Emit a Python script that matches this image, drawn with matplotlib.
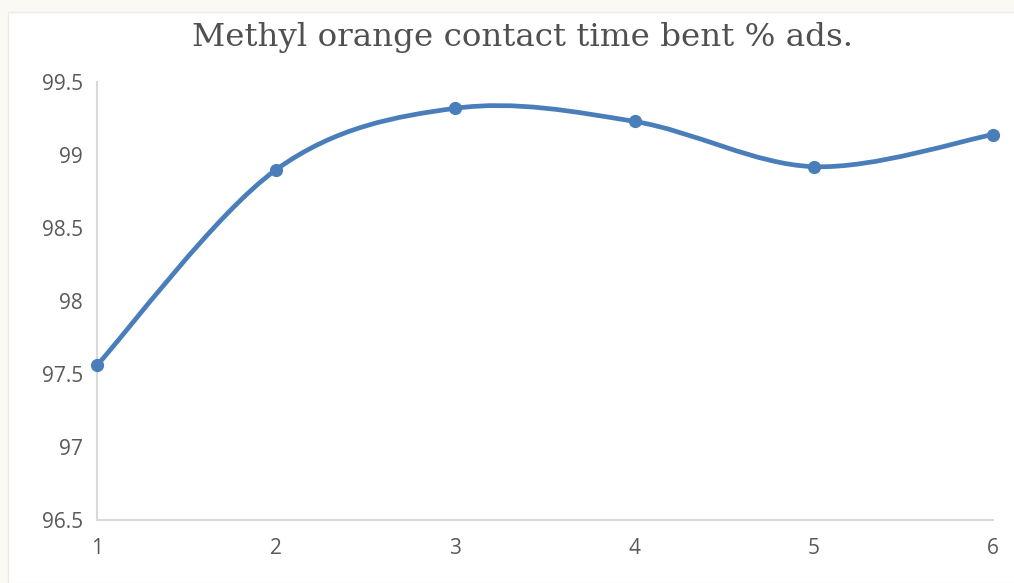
import matplotlib.pyplot as plt
import numpy as np
from matplotlib.patches import PathPatch, Rectangle
from matplotlib.path import Path

contact_time = [1, 2, 3, 4, 5, 6]
percent_ads = [97.56, 98.90, 99.32, 99.23, 98.92, 99.14]
y_ticks = [96.5, 97, 97.5, 98, 98.5, 99, 99.5]
y_labels = ["96.5", "97", "97.5", "98", "98.5", "99", "99.5"]

LINE_BLUE = "#4a7ebb"
GRID_GREY = "#d9d9d9"
TEXT_GREY = "#595959"


def smooth_path(x, y):
    # Excel style smoothed line: cubic Bezier segments, Catmull-Rom control points
    pts = np.column_stack([x, y]).astype(float)
    padded = np.vstack([pts[0], pts, pts[-1]])
    verts = [pts[0]]
    codes = [Path.MOVETO]
    for i in range(len(pts) - 1):
        p0, p1, p2, p3 = padded[i], padded[i + 1], padded[i + 2], padded[i + 3]
        verts += [p1 + (p2 - p0) / 6, p2 - (p3 - p1) / 6, p2]
        codes += [Path.CURVE4] * 3
    return Path(verts, codes)


if __name__ == "__main__":
    fig = plt.figure(figsize=(10.14, 5.83), dpi=100, facecolor="#faf9f4")
    fig.patches.append(Rectangle((8 / 1014, 0), 1, 1 - 12 / 583, transform=fig.transFigure,
                                 facecolor="white", edgecolor="#ecebe6", linewidth=1, zorder=-10))

    ax = fig.add_axes([97 / 1014, 63 / 583, 896 / 1014, 438 / 583])
    ax.set_facecolor("white")
    ax.add_patch(PathPatch(smooth_path(contact_time, percent_ads), facecolor="none",
                           edgecolor=LINE_BLUE, linewidth=3.4, capstyle="round", zorder=3))
    ax.plot(contact_time, percent_ads, linestyle="none", marker="o", markersize=8.5,
            color=LINE_BLUE, zorder=4, clip_on=False)

    ax.set_xlim(1, 6)
    ax.set_ylim(96.5, 99.5)
    ax.set_xticks(contact_time)
    ax.set_xticklabels([str(t) for t in contact_time])
    ax.set_yticks(y_ticks)
    ax.set_yticklabels(y_labels)
    ax.tick_params(length=0, colors=TEXT_GREY, labelsize=15)
    ax.tick_params(axis="x", pad=13)
    ax.tick_params(axis="y", pad=10)
    for lbl in ax.get_xticklabels() + ax.get_yticklabels():
        lbl.set_family("Open Sans")
    for side in ["top", "right"]:
        ax.spines[side].set_visible(False)
    for side in ["left", "bottom"]:
        ax.spines[side].set_color(GRID_GREY)
        ax.spines[side].set_linewidth(1.5)

    fig.text(0.515, 1 - 46 / 583, "Methyl orange contact time bent % ads.", ha="center",
             va="baseline", fontsize=23.4, color="#505050", family="DejaVu Serif")

    plt.savefig("out.png", dpi=100, facecolor=fig.get_facecolor())
    plt.close()
